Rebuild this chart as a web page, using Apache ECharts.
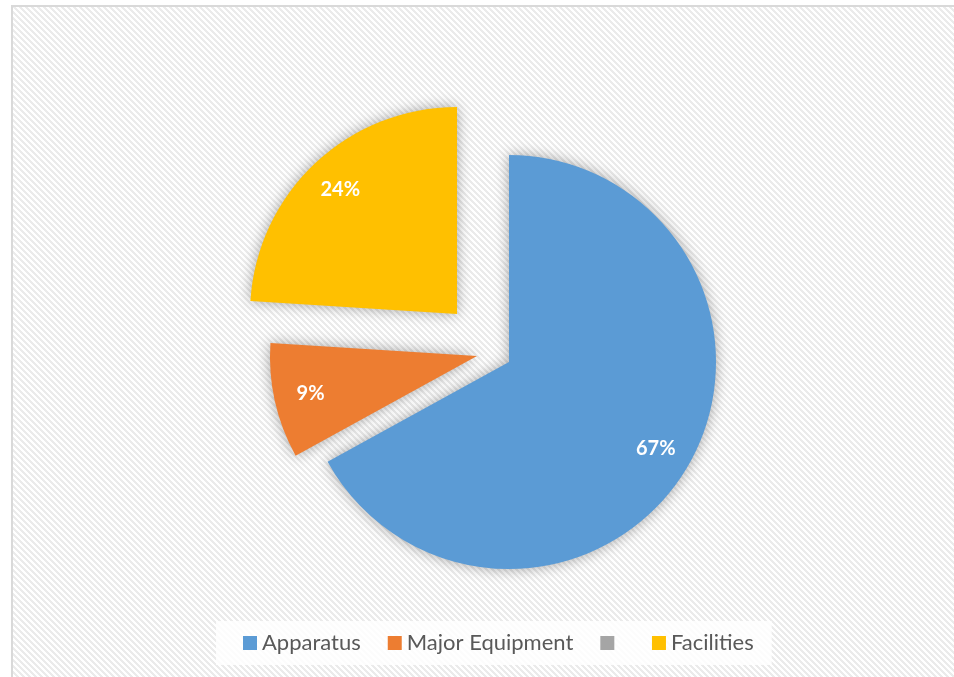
<!DOCTYPE html>
<html>
<head>
<meta charset="utf-8">
<title>Pie</title>
<script src="https://cdn.jsdelivr.net/npm/echarts@6/dist/echarts.min.js"></script>
<style>
  html, body { margin: 0; padding: 0; background: #fff; overflow: hidden; }
  #frame {
    position: absolute; left: 11px; top: 5px; width: 960px; height: 700px;
    border: 2px solid #d9d9d9;
  }
  #chart { position: absolute; left: 0; top: 0; width: 954px; height: 677px; }
</style>
</head>
<body>
<div id="frame"></div>
<div id="chart"></div>
<script>
// data
const categories = ['Apparatus', 'Major Equipment', ' ', 'Facilities']
const shares = [67, 9, 0, 24]

// look
const colors = ['#5B9BD5', '#ED7D31', '#A5A5A5', '#FFC000']
const pullOut = [[0, 0], [-32, -6], [0, 0], [-52, -48]]   // exploded slices, px
const center = [509, 362]
const radius = 207

// striped plot background, small tile repeated
const tile = document.createElement('canvas')
tile.width = 6
tile.height = 6
const tctx = tile.getContext('2d')
tctx.fillStyle = '#fff'
tctx.fillRect(0, 0, 6, 6)
tctx.fillStyle = '#ebebeb'
for (let y = 0; y < 6; y++) {
  for (let x = 0; x < 6; x++) {
    if (((x - y) % 6 + 6) % 6 < 3) tctx.fillRect(x, y, 1, 1)
  }
}
document.getElementById('frame').style.backgroundImage = 'url(' + tile.toDataURL() + ')'

const chart = echarts.init(document.getElementById('chart'))

const sliceCenter = (i) => [center[0] + pullOut[i][0], center[1] + pullOut[i][1]]

// one series per slice so every slice can sit at its own exploded spot
const sliceSeries = (idx) => ({
  type: 'pie',
  center: sliceCenter(idx),
  radius,
  startAngle: 90,
  label: { show: false },
  labelLine: { show: false },
  emphasis: { disabled: true },
  data: categories.map((name, i) => ({
    name,
    value: shares[i],
    itemStyle: {
      color: colors[i],
      opacity: i === idx ? 1 : 0,
      borderWidth: 0,
      shadowBlur: 14,
      shadowColor: 'rgba(0,0,0,0.35)'
    }
  }))
})

// transparent ring only used to place the % labels further out
const labelSeries = (idx) => ({
  type: 'pie',
  center: sliceCenter(idx),
  radius: [128, radius],
  startAngle: 90,
  silent: true,
  labelLine: { show: false },
  emphasis: { disabled: true },
  data: categories.map((name, i) => ({
    name,
    value: shares[i],
    itemStyle: { color: 'transparent', borderWidth: 0 },
    label: {
      show: i === idx,
      position: 'inside',
      formatter: shares[i] + '%',
      color: '#fff',
      fontFamily: 'Lato',
      fontWeight: 'bold',
      fontSize: 20
    }
  }))
})

const visible = categories.map((c, i) => i).filter(i => shares[i] > 0)

chart.setOption({
  animation: false,
  legend: {
    left: 216,
    top: 621,
    padding: [11, 18, 11, 27],
    backgroundColor: 'rgba(255,255,255,0.85)',
    icon: 'rect',
    itemWidth: 14,
    itemHeight: 14,
    itemGap: 27,
    selectedMode: false,
    textStyle: { color: '#595959', fontSize: 22, lineHeight: 22, fontFamily: 'Lato' },
    data: categories.map((name, i) => ({
      name,
      itemStyle: { color: colors[i], opacity: 1, shadowBlur: 0 }
    }))
  },
  series: [...visible.map(sliceSeries), ...visible.map(labelSeries)]
})
</script>
</body>
</html>
